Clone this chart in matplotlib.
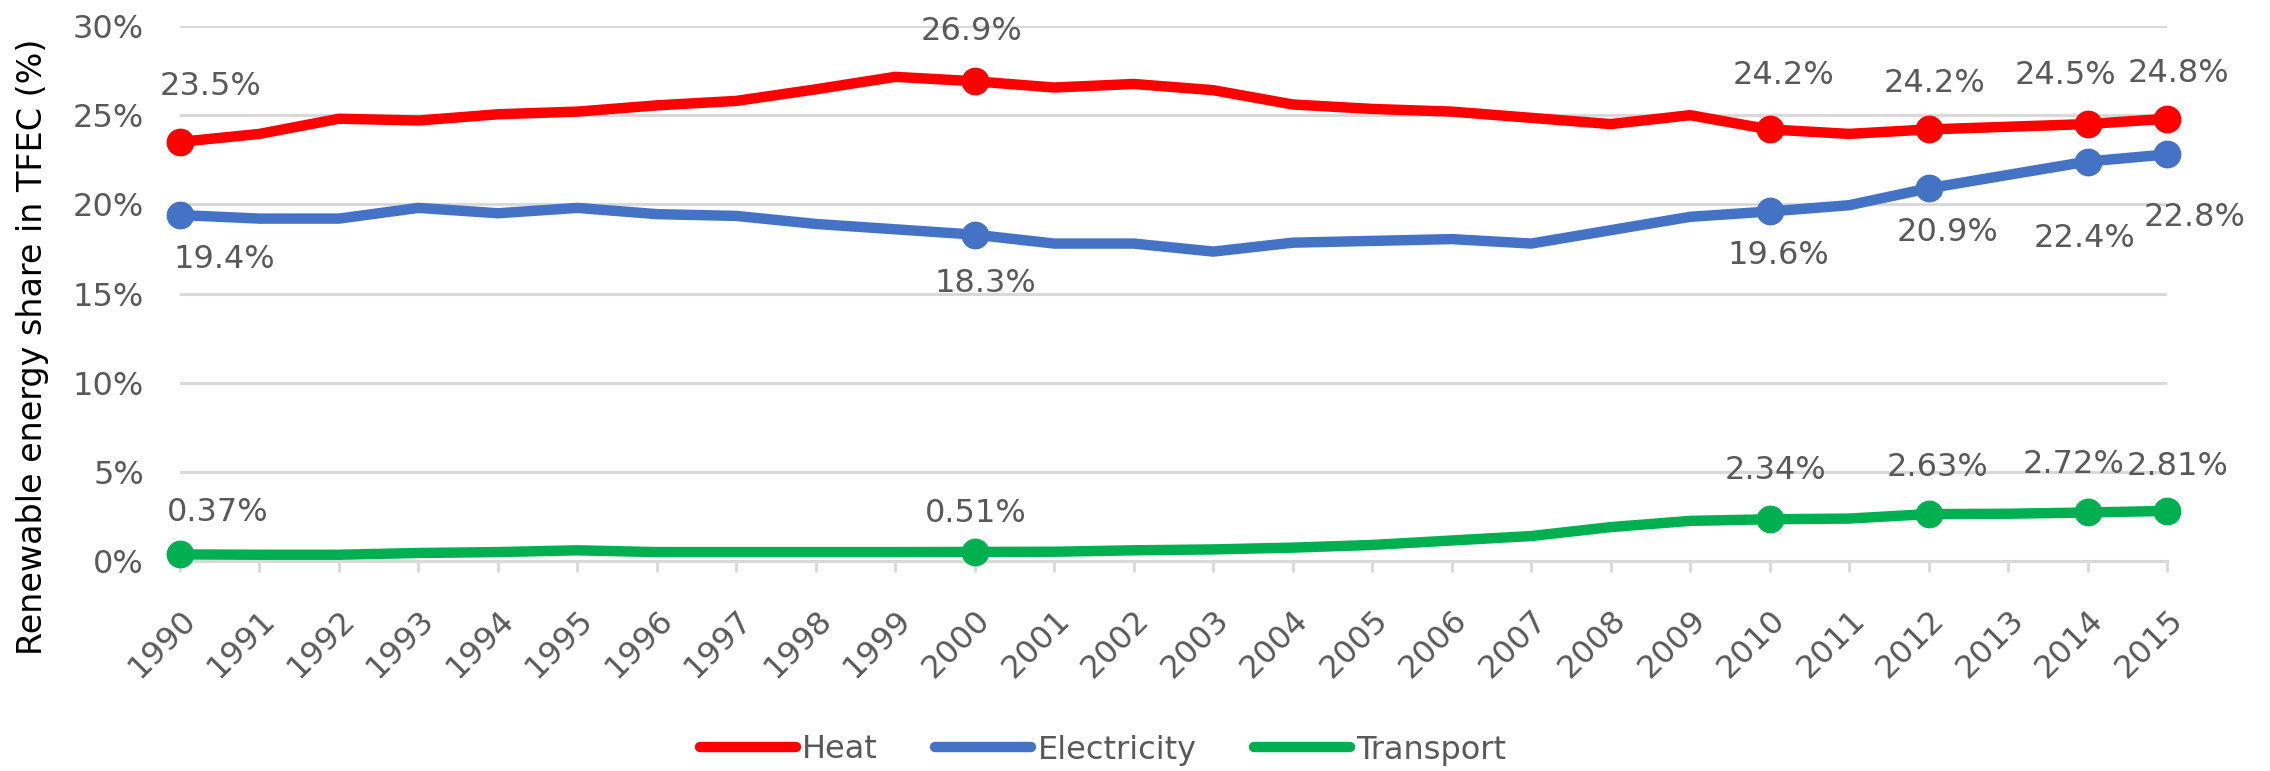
import matplotlib
matplotlib.use("Agg")
import matplotlib.pyplot as plt
import matplotlib.transforms as mtransforms

years = [str(y) for y in range(1990, 2016)]
heat = [23.5, 23.95, 24.8, 24.7, 25.05, 25.2, 25.55, 25.8, 26.45, 27.15, 26.9, 26.55, 26.75,
        26.4, 25.6, 25.35, 25.2, 24.85, 24.5, 25.0, 24.2, 23.95, 24.2, 24.35, 24.5, 24.8]
electricity = [19.4, 19.2, 19.2, 19.8, 19.5, 19.8, 19.45, 19.35, 18.9, 18.6, 18.3, 17.8, 17.8,
               17.35, 17.85, 17.95, 18.05, 17.8, 18.55, 19.3, 19.6, 19.95, 20.9, 21.65, 22.4, 22.8]
transport = [0.37, 0.35, 0.35, 0.45, 0.5, 0.6, 0.5, 0.5, 0.5, 0.5, 0.51, 0.52, 0.6,
             0.65, 0.75, 0.9, 1.15, 1.4, 1.9, 2.25, 2.34, 2.38, 2.63, 2.65, 2.72, 2.81]
marked_years = ["1990", "2000", "2010", "2012", "2014", "2015"]

grey_txt = "#595959"
grid_col = "#D9D9D9"
fs = 23

fig = plt.figure(figsize=(22.7, 7.71), dpi=100)
ax = fig.add_axes([180 / 2270, 1 - 561 / 771, 1987 / 2270, 535 / 771])

x = list(range(len(years)))
marked_idx = [years.index(y) for y in marked_years]

# label offsets in pixels from each marker
series = [
    ("Heat", heat, "#FF0000", "{:.1f}%",
     [(30, 55), (-3, 50), (14, 54), (6, 46), (-22, 49), (11, 45)]),
    ("Electricity", electricity, "#4472C4", "{:.1f}%",
     [(44, -44), (11, -49), (9, -44), (19, -44), (-3, -77), (28, -63)]),
    ("Transport", transport, "#00B050", "{:.2f}%",
     [(38, 42), (1, 38), (6, 49), (9, 47), (-14, 48), (11, 44)]),
]

for name, vals, col, fmt, offs in series:
    ax.plot(x, vals, color=col, lw=7.5, solid_capstyle="round", solid_joinstyle="round",
            label=name, zorder=3, clip_on=False)
    ax.plot([x[i] for i in marked_idx], [vals[i] for i in marked_idx], "o", color=col,
            ms=19, zorder=4, clip_on=False)
    for i, (dx, dy) in zip(marked_idx, offs):
        ax.annotate(fmt.format(vals[i]), (x[i], vals[i]), xytext=(dx, dy),
                    textcoords="offset pixels", ha="center", va="center",
                    fontsize=fs, color=grey_txt, zorder=5)

ax.set_xlim(0, len(years) - 1)
ax.set_ylim(0, 30)
ax.set_yticks(range(0, 31, 5))
ax.set_yticklabels([f"{v}%" for v in range(0, 31, 5)])
ax.set_xticks(x)
ax.set_xticklabels(years, rotation=45, ha="right", rotation_mode="anchor")
offset = mtransforms.ScaledTranslation(10 / 100, 0, fig.dpi_scale_trans)
for lab in ax.get_xticklabels():
    lab.set_transform(lab.get_transform() + offset)

ax.tick_params(axis="y", length=0, pad=26, labelsize=fs, labelcolor=grey_txt)
ax.tick_params(axis="x", length=8, width=2, color=grid_col, pad=23, labelsize=fs,
               labelcolor=grey_txt)
ax.grid(axis="y", color=grid_col, lw=2.2, zorder=0)
for s in ["top", "right", "left"]:
    ax.spines[s].set_visible(False)
ax.spines["bottom"].set_color(grid_col)
ax.spines["bottom"].set_linewidth(2.2)
ax.set_axisbelow(True)

fig.text(33 / 2270, 1 - 347 / 771, "Renewable energy share in TFEC (%)", rotation=90,
         ha="center", va="center", fontsize=24, color="black")

fig.legend(loc="center", bbox_to_anchor=(0.486, 1 - 750 / 771), ncol=3, frameon=False,
           fontsize=fs, labelcolor=grey_txt, handlelength=3.0, handletextpad=0.2,
           columnspacing=1.8)

fig.savefig("out.png", dpi=100)
